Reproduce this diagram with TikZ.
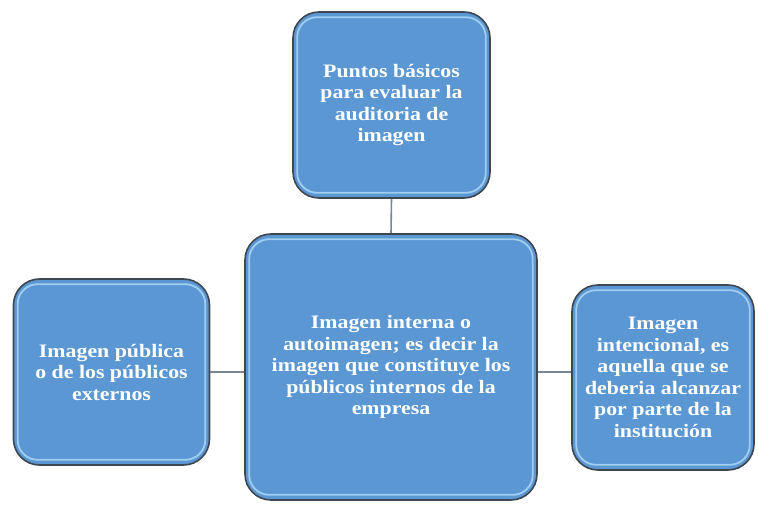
\documentclass[tikz,border=0pt]{standalone}
\usepackage{fontspec}
\newfontfamily\bx[FakeStretch=1.15]{Liberation Serif}
\definecolor{boxfill}{HTML}{5A97D3}
\definecolor{boxedge}{HTML}{3E4650}
\definecolor{boxhl}{HTML}{B8E0FA}
\definecolor{conn}{HTML}{7A8596}
\tikzset{
  box/.style={draw=boxedge, line width=1.6pt, fill=boxfill, rounded corners=26pt,
    inner sep=0pt, align=center, text=white, font=\bx\bfseries\fontsize{19}{21.5}\selectfont},
  hl/.style={draw=boxhl, line width=1.8pt, rounded corners=20pt, opacity=0.75},
  conline/.style={draw=conn, line width=1.6pt}
}
\newcommand{\hlbox}[1]{%
  \draw[hl] ([shift={(5,-6)}]#1.north west) rectangle ([shift={(-5,6)}]#1.south east);}
\begin{document}
\begin{tikzpicture}[x=1pt,y=1pt]
\useasboundingbox (0,0) rectangle (758,504);
\coordinate (cy) at (0,{504-372});
% connectors (behind boxes)
\node[box, minimum width=197, minimum height=186] (top) at (391.5,{504-105}) {Puntos básicos\\para evaluar la\\auditoria de\\imagen};
\node[box, minimum width=292, minimum height=266] (center) at (391,{504-367}) {Imagen interna o\\autoimagen; es decir la\\imagen que constituye los\\públicos internos de la\\empresa};
\node[box, minimum width=196, minimum height=186] (left) at (111.5,{504-372}) {Imagen pública\\o de los públicos\\externos};
\node[box, minimum width=182, minimum height=185] (right) at (663,{504-377.5}) {Imagen\\intencional, es\\aquella que se\\deberia alcanzar\\por parte de la\\institución};
\hlbox{top}\hlbox{center}\hlbox{left}\hlbox{right}
\draw[conline] (top.south) -- (center.north);
\draw[conline] (left.east |- cy) -- (center.west |- cy);
\draw[conline] (center.east |- cy) -- (right.west |- cy);
\end{tikzpicture}
\end{document}
